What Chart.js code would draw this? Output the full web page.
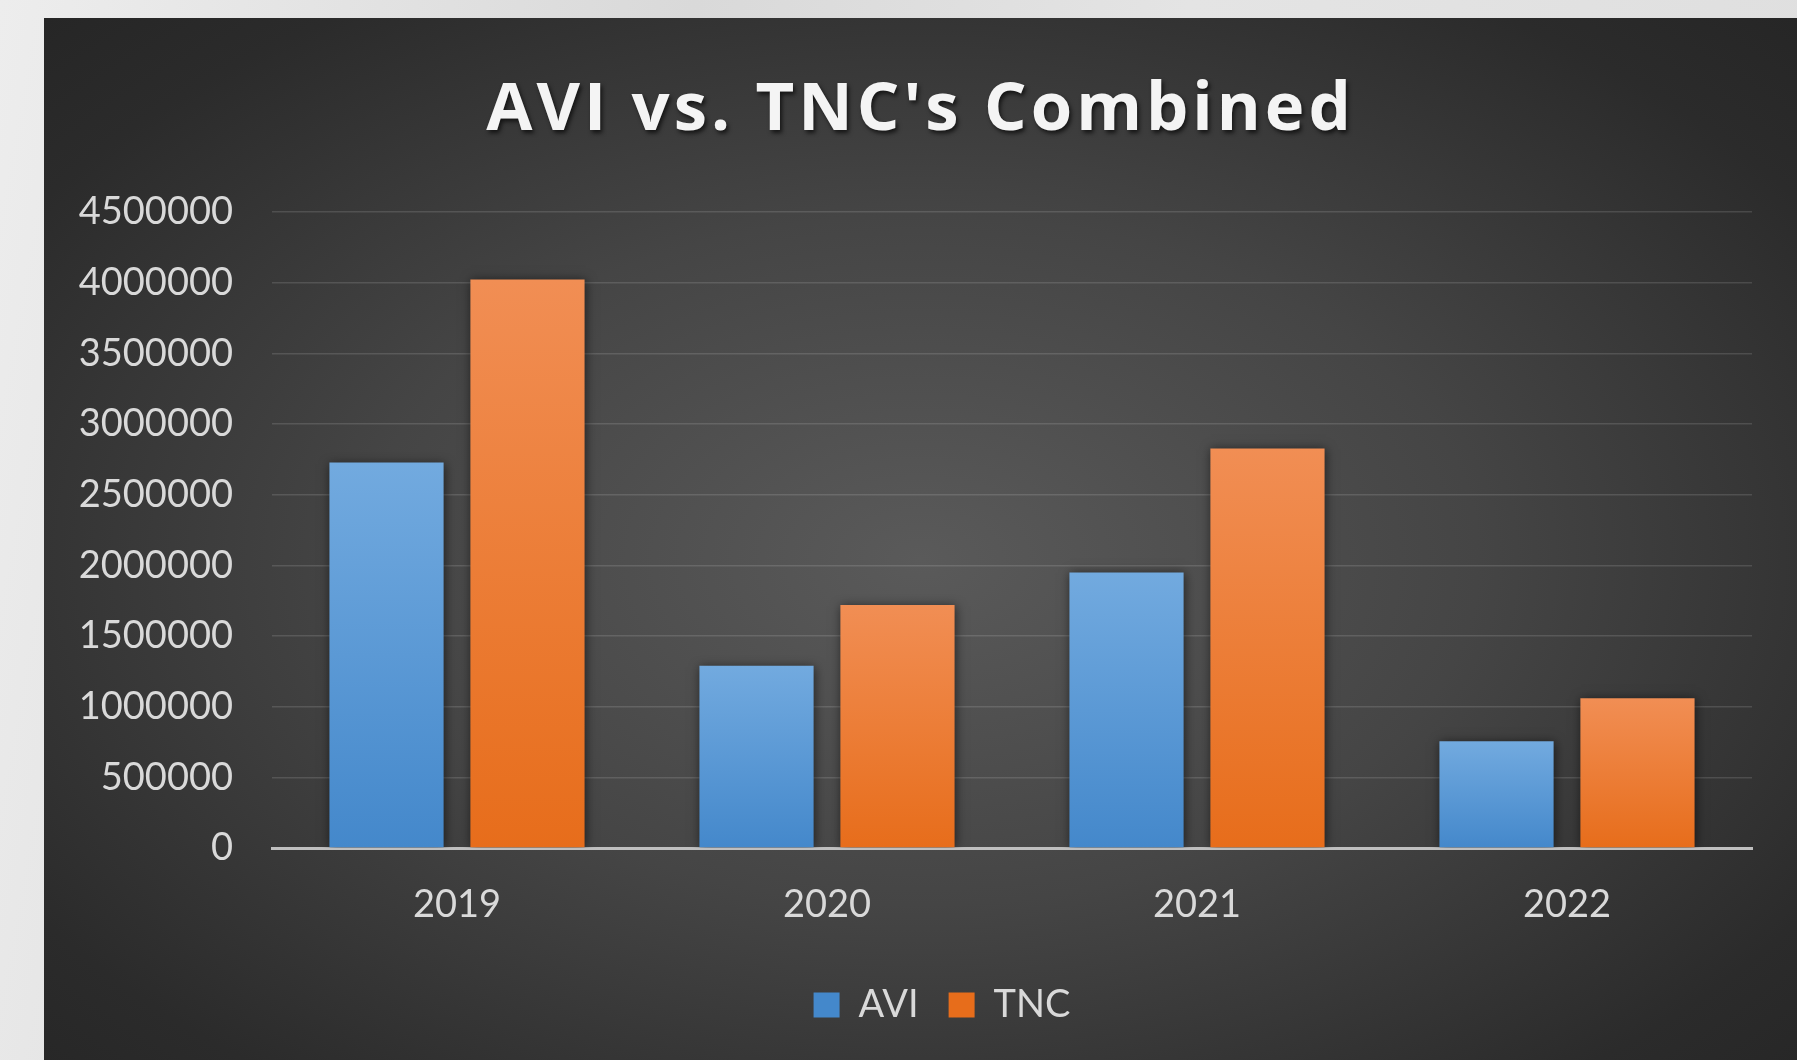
<!DOCTYPE html>
<html>
<head>
<meta charset="utf-8">
<title>AVI vs. TNC's Combined</title>
<script src="https://cdn.jsdelivr.net/npm/chart.js@4.4.1/dist/chart.umd.min.js"></script>
<style>
  html, body { margin: 0; padding: 0; }
  body {
    width: 1797px; height: 1060px; overflow: hidden; position: relative;
    background: linear-gradient(100deg, #ededed 0%, #d9d9d9 35%, #e4e4e4 60%, #dedede 100%);
  }
  #panel {
    position: absolute; left: 44px; top: 18px; width: 1753px; height: 1042px;
    background: radial-gradient(ellipse at 50% 52%, #5a5a5a 0%, #454545 45%, #2b2b2b 85%, #262626 100%);
  }
  #title {
    position: absolute; left: 0; top: 53px; width: 100%; text-align: center;
    font-family: "Open Sans", sans-serif; font-weight: 700; font-size: 67px; line-height: 1;
    letter-spacing: 4px; color: #f4f4f4;
    text-shadow: 2px 3px 4px rgba(0,0,0,0.65);
  }
  #chart { position: absolute; left: 0; top: 0; }
</style>
</head>
<body>
<div id="panel">
  <canvas id="chart" width="1753" height="1042"></canvas>
  <div id="title">AVI vs. TNC's Combined</div>
</div>
<script>
// values
var years = ["2019", "2020", "2021", "2022"];
var aviValues = [2727000, 1289000, 1950000, 755000];
var tncValues = [4023000, 1720000, 2827000, 1059000];
var yMax = 4500000;
var yStep = 500000;

var labelFont = { family: "Lato, 'Open Sans', sans-serif", size: 38 };
var labelColor = "#d9d9d9";

// top-to-bottom gradient per bar, solid colour for the legend
function barFill(top, bottom, legendColor) {
  return function(c) {
    if (c.type !== "data") return legendColor;
    var chart = c.chart, area = chart.chartArea;
    if (!area) return bottom;
    var y = chart.scales.y.getPixelForValue(c.raw);
    var g = chart.ctx.createLinearGradient(0, y, 0, area.bottom);
    g.addColorStop(0, top);
    g.addColorStop(1, bottom);
    return g;
  };
}

var barShadow = {
  id: "barShadow",
  beforeDatasetsDraw: function(chart) {
    var ctx = chart.ctx;
    ctx.save();
    ctx.shadowColor = "rgba(0,0,0,0.55)";
    ctx.shadowBlur = 10;
    ctx.shadowOffsetX = 1;
    ctx.shadowOffsetY = 1;
  },
  afterDatasetsDraw: function(chart) {
    chart.ctx.restore();
  }
};

// legend sits a little right of the canvas centre in the original
var legendShift = {
  id: "legendShift",
  afterLayout: function(chart) {
    chart.legend.left += 44;
    chart.legend.right += 44;
  }
};

new Chart(document.getElementById("chart"), {
  type: "bar",
  data: {
    labels: years,
    datasets: [
      {
        label: "AVI",
        data: aviValues,
        backgroundColor: barFill("#72aadf", "#4488cb", "#4e9de6")
      },
      {
        label: "TNC",
        data: tncValues,
        backgroundColor: barFill("#f18e54", "#e76d1b", "#f07a25")
      }
    ]
  },
  options: {
    responsive: false,
    animation: false,
    categoryPercentage: 0.762,
    barPercentage: 0.81,
    layout: { padding: { top: 194, right: 45, bottom: 26, left: 0 } },
    plugins: {
      title: { display: false },
      tooltip: { enabled: false },
      legend: {
        position: "bottom",
        labels: {
          color: labelColor,
          font: labelFont,
          boxWidth: 26,
          boxHeight: 25,
          padding: 30
        }
      }
    },
    scales: {
      x: {
        grid: { display: false, drawTicks: false },
        border: { display: true, color: "#bfbfbf", width: 3 },
        ticks: { color: labelColor, font: labelFont, padding: 34 },
        afterFit: function(s) { s.height = 108; }
      },
      y: {
        min: 0,
        max: yMax,
        grid: {
          drawTicks: false,
          color: function(c) { return c.tick && c.tick.value === 0 ? "rgba(0,0,0,0)" : "rgba(255,255,255,0.13)"; },
          lineWidth: 1.5
        },
        border: { display: false },
        ticks: {
          stepSize: yStep,
          color: labelColor,
          font: labelFont,
          padding: 39,
          callback: function(v) { return String(v); }
        },
        afterFit: function(s) { s.width = 228; }
      }
    }
  },
  plugins: [barShadow, legendShift]
});
</script>
</body>
</html>
